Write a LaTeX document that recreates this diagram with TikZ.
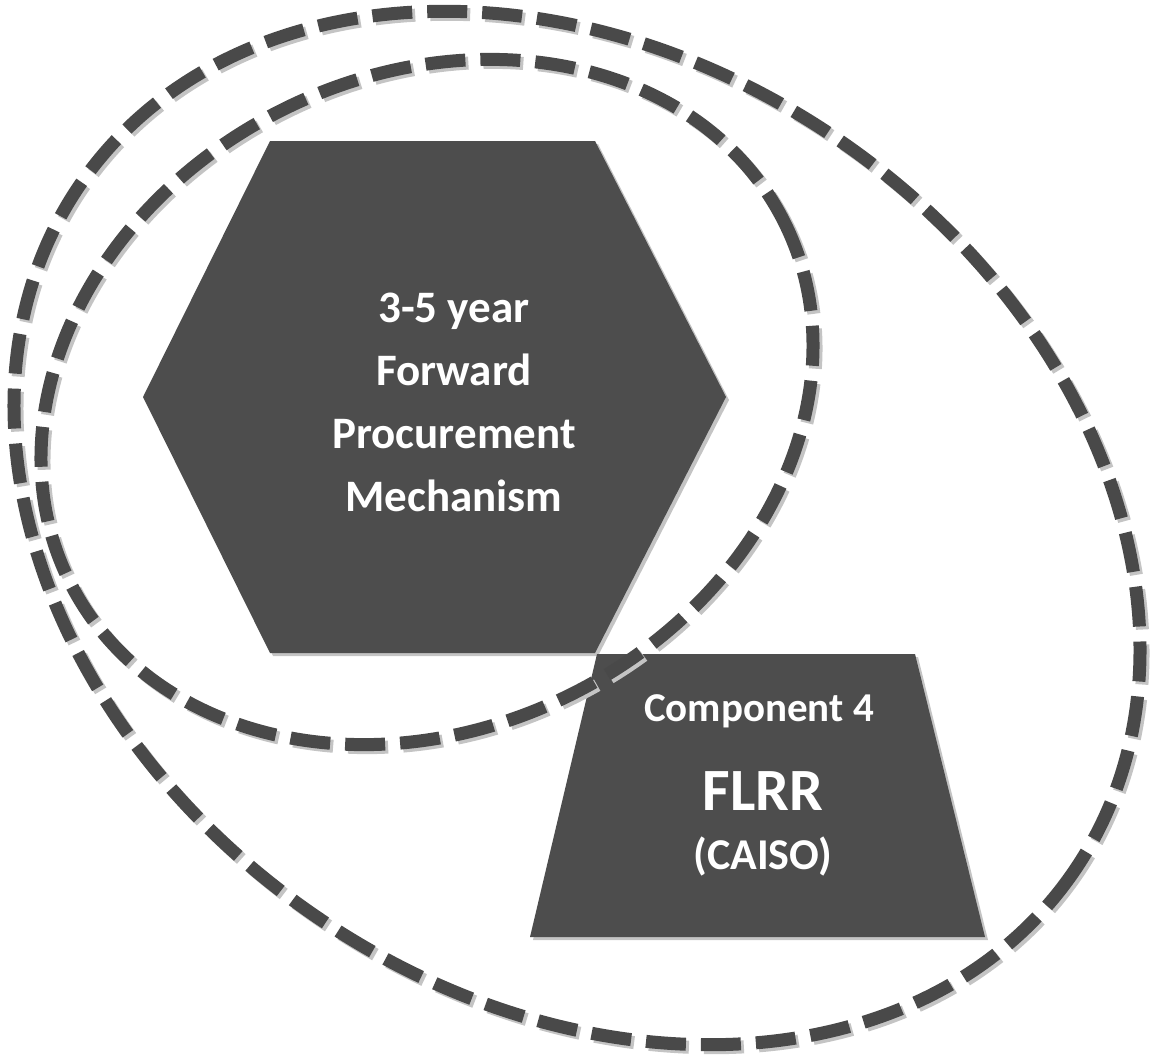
\documentclass[tikz,border=0pt]{standalone}
\usepackage{fontspec}
\setmainfont{Carlito}
\definecolor{shapegray}{HTML}{4D4D4D}
\definecolor{dashgray}{HTML}{494949}
\definecolor{shadegray}{HTML}{C4C4C4}
\begin{document}
\begin{tikzpicture}[x=1pt,y=-1pt,line join=round]
	\tikzset{ring/.style={draw=dashgray,line width=13pt,dash pattern=on 40pt off 15pt},
		ringshade/.style={draw=shadegray,line width=13pt,dash pattern=on 40pt off 15pt},
		whitetext/.style={text=white,inner sep=0pt,align=center}}
	\useasboundingbox (0,0) rectangle (1153,1057);
	% hexagon
	\fill[shadegray] (273,144)--(598,144)--(729,400)--(598,656)--(273,656)--(146,400)--cycle;
	\fill[shapegray] (270,141)--(595,141)--(726,397)--(595,653)--(270,653)--(143,397)--cycle;
	\node[whitetext,font=\fontsize{45}{63}\selectfont\bfseries] (fpm) at (454,402) {3-5 year\\Forward\\Procurement\\Mechanism};
	% trapezoid
	\fill[shadegray] (600,657)--(918,657)--(988,940)--(533,940)--cycle;
	\fill[shapegray] (597,654)--(915,654)--(985,937)--(530,937)--cycle;
	\node[whitetext,anchor=base,font=\fontsize{41}{41}\selectfont\bfseries] (comp) at (759,721) {Component 4};
	\node[whitetext,anchor=base,font=\fontsize{60}{60}\selectfont\bfseries] (flrr) at (763,810) {FLRR};
	\node[whitetext,anchor=base,font=\fontsize{44}{44}\selectfont\bfseries] (caiso) at (763,869) {(CAISO)};
	% dashed rings
	\draw[ringshade] (580,531) ellipse[x radius=604,y radius=468,rotate=-35];
	\draw[ringshade] (430,405) ellipse[x radius=400,y radius=326,rotate=27];
	\draw[ring] (577,528) ellipse[x radius=604,y radius=468,rotate=-35];
	\draw[ring] (427,402) ellipse[x radius=400,y radius=326,rotate=27];
\end{tikzpicture}
\end{document}
